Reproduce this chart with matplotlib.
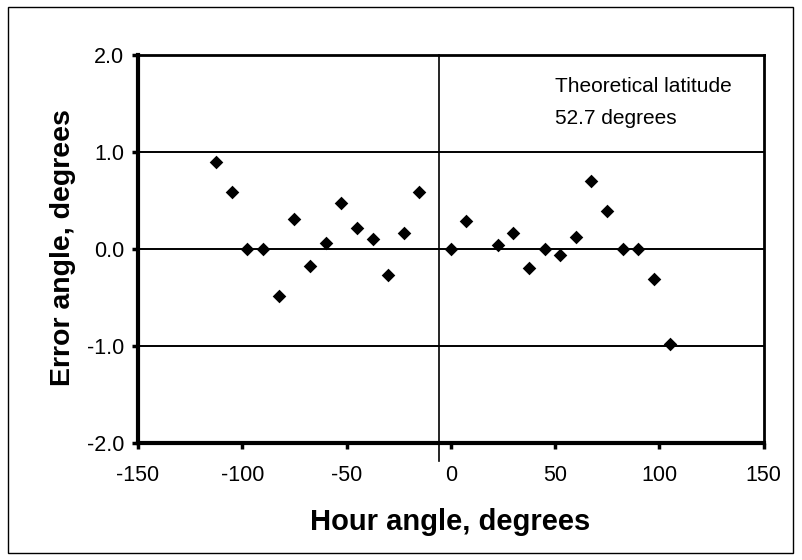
import matplotlib
matplotlib.use("Agg")
import matplotlib.pyplot as plt
from matplotlib.patches import Rectangle

hour_angle = [-112.5, -105, -97.5, -90, -82.5, -75, -67.5, -60, -52.5, -45, -37.5, -30, -22.5, -15,
              0, 7.5, 22.5, 30, 37.5, 45, 52.5, 60, 67.5, 75, 82.5, 90, 97.5, 105]
error_angle = [0.89, 0.58, 0.0, 0.0, -0.49, 0.31, -0.18, 0.06, 0.47, 0.21, 0.10, -0.27, 0.16, 0.58,
               0.0, 0.29, 0.04, 0.16, -0.20, 0.0, -0.06, 0.12, 0.70, 0.39, 0.0, 0.0, -0.31, -0.98]
x_ticks = [-150, -100, -50, 0, 50, 100, 150]
y_ticks = [-2.0, -1.0, 0.0, 1.0, 2.0]
ref_line_x = -5.4
note_lines = ["Theoretical latitude", "52.7 degrees"]

plt.rcParams['font.family'] = ['Liberation Sans', 'DejaVu Sans']

W, H = 802, 560
fig = plt.figure(figsize=(W / 100, H / 100), dpi=100)
ax_l, ax_r, ax_t, ax_b = 138, 763.5, 54.6, 443
ax = fig.add_axes([ax_l / W, 1 - ax_b / H, (ax_r - ax_l) / W, (ax_b - ax_t) / H])

ax.set_xlim(-150, 150)
ax.set_ylim(-2, 2)
ax.set_xticks(x_ticks)
ax.set_yticks(y_ticks)
ax.set_xticklabels([str(v) for v in x_ticks])
ax.set_yticklabels([f"{v:.1f}" for v in y_ticks])

for y in [-1.0, 0.0, 1.0]:
    ax.axhline(y, color='black', lw=1.4, zorder=1)

ax.plot([ref_line_x, ref_line_x], [-2.19, 2.0], color='black', lw=1.2, clip_on=False, zorder=1)

ax.scatter(hour_angle, error_angle, marker='D', s=48, color='black', zorder=3, linewidths=0)

ax.spines['left'].set_linewidth(3)
ax.spines['bottom'].set_linewidth(3)
ax.spines['top'].set_linewidth(2)
ax.spines['right'].set_linewidth(2)

ax.tick_params(axis='both', direction='out', length=4, width=2.5, labelsize=15.5, color='black')
ax.tick_params(axis='x', pad=12)
ax.tick_params(axis='y', pad=6)

ax.set_xlabel("Hour angle, degrees", fontsize=21, fontweight='bold')
ax.set_ylabel("Error angle, degrees", fontsize=20.5, fontweight='bold')
ax.xaxis.set_label_coords((450 - ax_l) / (ax_r - ax_l), (ax_b - 522) / (ax_b - ax_t))
ax.xaxis.label.set_va('center')
ax.yaxis.set_label_coords((63 - ax_l) / (ax_r - ax_l), (ax_b - 248) / (ax_b - ax_t))
ax.yaxis.label.set_va('center')

for txt, yc in zip(note_lines, [87, 118]):
    fig.text(555 / W, 1 - yc / H, txt, fontsize=15, ha='left', va='center')

fig.patches.append(Rectangle((8 / W, 7 / H), (793 - 8) / W, (553 - 7) / H,
                             transform=fig.transFigure, fill=False, edgecolor='black', lw=1.0))

fig.savefig("out.png", dpi=100)
